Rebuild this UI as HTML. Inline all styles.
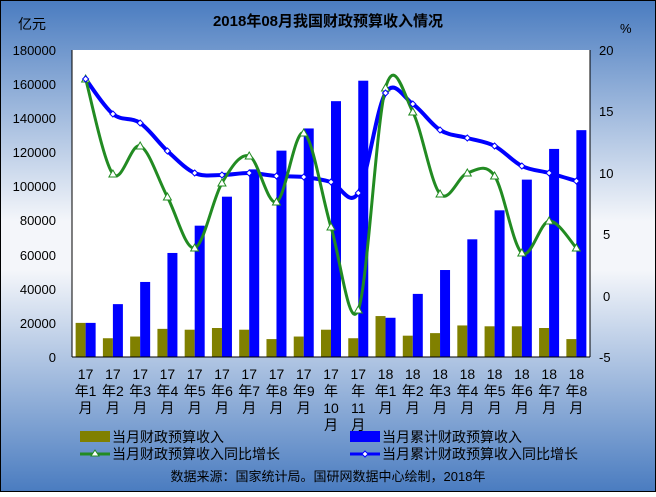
<!DOCTYPE html>
<html><head><meta charset="utf-8"><style>
body{margin:0;width:656px;height:492px;overflow:hidden}
svg text{font-family:"Liberation Sans","Noto Sans CJK SC",sans-serif}
</style></head><body>
<svg id="s" width="656" height="492" xmlns="http://www.w3.org/2000/svg">
<defs><linearGradient id="bg" x1="0" y1="0" x2="0" y2="1">
<stop offset="0" stop-color="#4a7cc0"/><stop offset="0.45" stop-color="#f4f6fa"/><stop offset="0.55" stop-color="#f4f6fa"/><stop offset="1" stop-color="#4a7cc0"/></linearGradient></defs>
<rect x="0.5" y="0.5" width="655" height="491" fill="url(#bg)" stroke="#000"/>
<rect x="72" y="50" width="518" height="307" fill="#fff"/>
<text x="328" y="26" font-size="15" font-weight="bold" text-anchor="middle">2018年08月我国财政预算收入情况</text>
<text x="18" y="29" font-size="14">亿元</text>
<text x="620" y="33" font-size="13">%</text>
<g font-size="13" text-anchor="end">
<text x="56" y="55">180000</text><text x="56" y="89">160000</text><text x="56" y="123">140000</text><text x="56" y="157">120000</text><text x="56" y="191">100000</text><text x="56" y="225">80000</text><text x="56" y="260">60000</text><text x="56" y="294">40000</text><text x="56" y="328">20000</text><text x="56" y="362">0</text></g>
<g font-size="13">
<text x="599" y="55">20</text><text x="599" y="116">15</text><text x="599" y="178">10</text><text x="603" y="239">5</text><text x="603" y="301">0</text><text x="599" y="362">-5</text></g>
<g id="bars"></g><g id="lines"></g>
<line x1="72" y1="50" x2="72" y2="357" stroke="#000"/>
<line x1="590" y1="50" x2="590" y2="357" stroke="#000"/>
<line x1="72" y1="357" x2="590" y2="357" stroke="#000"/>
<rect x="80" y="431" width="30" height="11" fill="#808000"/>
<text x="112" y="442" font-size="14">当月财政预算收入</text>
<rect x="350" y="431" width="30" height="11" fill="#0000ff"/>
<text x="382" y="442" font-size="14">当月累计财政预算收入</text>
<line x1="80" y1="454" x2="110" y2="454" stroke="#228b22" stroke-width="3"/>
<polygon points="95,450 91,456 99,456" fill="#fff" stroke="#228b22"/>
<text x="112" y="459" font-size="14">当月财政预算收入同比增长</text>
<line x1="350" y1="454" x2="380" y2="454" stroke="#0000ff" stroke-width="3"/>
<polygon points="365,451 368,454 365,457 362,454" fill="#fff" stroke="#0000ff"/>
<text x="382" y="459" font-size="14">当月累计财政预算收入同比增长</text>
<text x="328" y="481" font-size="13" text-anchor="middle">数据来源：国家统计局。国研网数据中心绘制，2018年</text>
<g font-size="14" text-anchor="middle">
<text x="85.6" y="379">17</text><text x="85.6" y="396">年1</text><text x="85.6" y="413">月</text>
<text x="112.9" y="379">17</text><text x="112.9" y="396">年2</text><text x="112.9" y="413">月</text>
<text x="140.2" y="379">17</text><text x="140.2" y="396">年3</text><text x="140.2" y="413">月</text>
<text x="167.4" y="379">17</text><text x="167.4" y="396">年4</text><text x="167.4" y="413">月</text>
<text x="194.7" y="379">17</text><text x="194.7" y="396">年5</text><text x="194.7" y="413">月</text>
<text x="222.0" y="379">17</text><text x="222.0" y="396">年6</text><text x="222.0" y="413">月</text>
<text x="249.2" y="379">17</text><text x="249.2" y="396">年7</text><text x="249.2" y="413">月</text>
<text x="276.5" y="379">17</text><text x="276.5" y="396">年8</text><text x="276.5" y="413">月</text>
<text x="303.8" y="379">17</text><text x="303.8" y="396">年9</text><text x="303.8" y="413">月</text>
<text x="331.0" y="379">17</text><text x="331.0" y="396">年</text><text x="331.0" y="413">10</text><text x="331.0" y="430">月</text>
<text x="358.3" y="379">17</text><text x="358.3" y="396">年</text><text x="358.3" y="413">11</text><text x="358.3" y="430">月</text>
<text x="385.6" y="379">18</text><text x="385.6" y="396">年1</text><text x="385.6" y="413">月</text>
<text x="412.8" y="379">18</text><text x="412.8" y="396">年2</text><text x="412.8" y="413">月</text>
<text x="440.1" y="379">18</text><text x="440.1" y="396">年3</text><text x="440.1" y="413">月</text>
<text x="467.4" y="379">18</text><text x="467.4" y="396">年4</text><text x="467.4" y="413">月</text>
<text x="494.6" y="379">18</text><text x="494.6" y="396">年5</text><text x="494.6" y="413">月</text>
<text x="521.9" y="379">18</text><text x="521.9" y="396">年6</text><text x="521.9" y="413">月</text>
<text x="549.2" y="379">18</text><text x="549.2" y="396">年7</text><text x="549.2" y="413">月</text>
<text x="576.4" y="379">18</text><text x="576.4" y="396">年8</text><text x="576.4" y="413">月</text>
</g>
</svg>
<script>
var ol=[20000,11000,12000,16500,16000,17000,16000,10500,12000,16000,11000,24000,12500,14000,18500,18000,18000,17000,10500];
var bl=[20000,31000,44000,61000,77000,94000,110000,121000,134000,150000,162000,23000,37000,51000,69000,86000,104000,122000,133000];
var gy=[79,174,146,197,248,183,156,202,133,227,310,88,112,194,173,176,253,221,248];
var by=[79,114,123,151,173,175,173,176,177,182,193,93,104,130,138,146,166,173,181];
var NS="http://www.w3.org/2000/svg";
function el(p,t,a){var e=document.createElementNS(NS,t);for(var k in a)e.setAttribute(k,a[k]);document.getElementById(p).appendChild(e);return e;}
var w=518/19,cx=[];
for(var i=0;i<19;i++){var c=72+w*(i+0.5);cx.push(c);
var h1=ol[i]/180000*307,h2=bl[i]/180000*307;
el('bars','rect',{x:c-10,y:357-h1,width:10,height:h1,fill:'#808000'});
el('bars','rect',{x:c,y:357-h2,width:10,height:h2,fill:'#0000ff'});}
function path(ys){var d='M'+cx[0]+','+ys[0];for(var i=0;i<18;i++){var p0=[cx[Math.max(i-1,0)],ys[Math.max(i-1,0)]],p1=[cx[i],ys[i]],p2=[cx[i+1],ys[i+1]],p3=[cx[Math.min(i+2,18)],ys[Math.min(i+2,18)]];
d+=' C'+(p1[0]+(p2[0]-p0[0])/6)+','+(p1[1]+(p2[1]-p0[1])/6)+' '+(p2[0]-(p3[0]-p1[0])/6)+','+(p2[1]-(p3[1]-p1[1])/6)+' '+p2[0]+','+p2[1];}return d;}
el('lines','path',{d:path(by),fill:'none',stroke:'#0000ff','stroke-width':4});
el('lines','path',{d:path(gy),fill:'none',stroke:'#228b22','stroke-width':3});
for(var i=0;i<19;i++){var x=cx[i],y=gy[i];
el('lines','polygon',{points:x+','+(y-4)+' '+(x-4)+','+(y+3)+' '+(x+4)+','+(y+3),fill:'#fff',stroke:'#228b22'});
y=by[i];el('lines','polygon',{points:x+','+(y-3)+' '+(x+3)+','+y+' '+x+','+(y+3)+' '+(x-3)+','+y,fill:'#fff',stroke:'#0000ff'});}
</script>
</body></html>
